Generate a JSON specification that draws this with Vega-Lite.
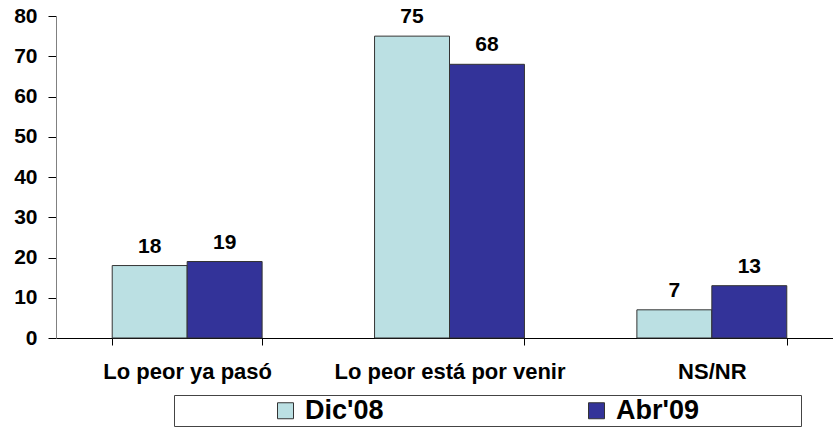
{
  "$schema": "https://vega.github.io/schema/vega-lite/v6.json",
  "width": 787,
  "height": 322,
  "autosize": {"type": "none"},
  "padding": {"left": 56, "top": 16, "right": 0, "bottom": 93},
  "background": "white",
  "config": {
    "view": {"stroke": null},
    "font": "Liberation Sans"
  },
  "data": {
    "values": [
      {"cat": "Lo peor ya pasó", "serie": "Dic'08", "valor": 18},
      {"cat": "Lo peor ya pasó", "serie": "Abr'09", "valor": 19},
      {"cat": "Lo peor está por venir", "serie": "Dic'08", "valor": 75},
      {"cat": "Lo peor está por venir", "serie": "Abr'09", "valor": 68},
      {"cat": "NS/NR", "serie": "Dic'08", "valor": 7},
      {"cat": "NS/NR", "serie": "Abr'09", "valor": 13}
    ]
  },
  "encoding": {
    "x": {
      "field": "cat",
      "type": "nominal",
      "sort": ["Lo peor ya pasó", "Lo peor está por venir", "NS/NR"],
      "scale": {"paddingInner": 0.4286, "paddingOuter": 0.2143},
      "axis": {
        "title": null,
        "labelAngle": 0,
        "tickBand": "extent",
        "domainColor": "#000000",
        "tickColor": "#000000",
        "tickSize": 7,
        "labelPadding": 16,
        "labelFontSize": 22,
        "labelFontWeight": "bold",
        "labelColor": "#000000",
        "labelFont": "Liberation Sans",
        "labelLimit": 400
      }
    },
    "xOffset": {"field": "serie", "sort": ["Dic'08", "Abr'09"]},
    "y": {
      "field": "valor",
      "type": "quantitative",
      "scale": {"domain": [0, 80], "nice": false},
      "axis": {
        "title": null,
        "grid": false,
        "values": [0, 10, 20, 30, 40, 50, 60, 70, 80],
        "domainColor": "#808080",
        "tickColor": "#000000",
        "tickSize": 8,
        "labelPadding": 11,
        "labelFontSize": 21,
        "labelFontWeight": "bold",
        "labelColor": "#000000",
        "labelFont": "Liberation Sans"
      }
    }
  },
  "layer": [
    {
      "mark": {"type": "bar", "stroke": "#333333", "strokeWidth": 1},
      "encoding": {
        "color": {
          "field": "serie",
          "type": "nominal",
          "sort": ["Dic'08", "Abr'09"],
          "scale": {"domain": ["Dic'08", "Abr'09"], "range": ["#BBE0E3", "#333399"]},
          "legend": {
            "title": "\u2800\u2800\u2800\u2800\u2800\u2800\u2800\u2800\u2800\u2800\u2800\u2800",
            "titleOrient": "left",
            "titleFont": "DejaVu Sans",
            "titleFontSize": 9.7,
            "titlePadding": 5,
            "orient": "none",
            "legendX": 118,
            "legendY": 379,
            "direction": "horizontal",
            "columns": 2,
            "columnPadding": 199,
            "padding": 2,
            "strokeColor": "#444444",
            "fillColor": "white",
            "symbolType": "square",
            "symbolSize": 256,
            "symbolStrokeColor": "#333333",
            "symbolStrokeWidth": 1,
            "labelFontSize": 27,
            "labelFontWeight": "bold",
            "labelColor": "#000000",
            "labelFont": "Liberation Sans",
            "labelOffset": 6,
            "labelLimit": 400,
            "labelExpr": "datum.label == \"Abr'09\" ? datum.label + '\u2800\u2800\u2800\u2800\u2800' : datum.label"
          }
        }
      }
    },
    {
      "mark": {"type": "text", "dy": -9, "baseline": "bottom", "fontSize": 21, "fontWeight": "bold", "font": "Liberation Sans", "color": "#000000"},
      "encoding": {"text": {"field": "valor", "type": "quantitative"}}
    }
  ]
}
